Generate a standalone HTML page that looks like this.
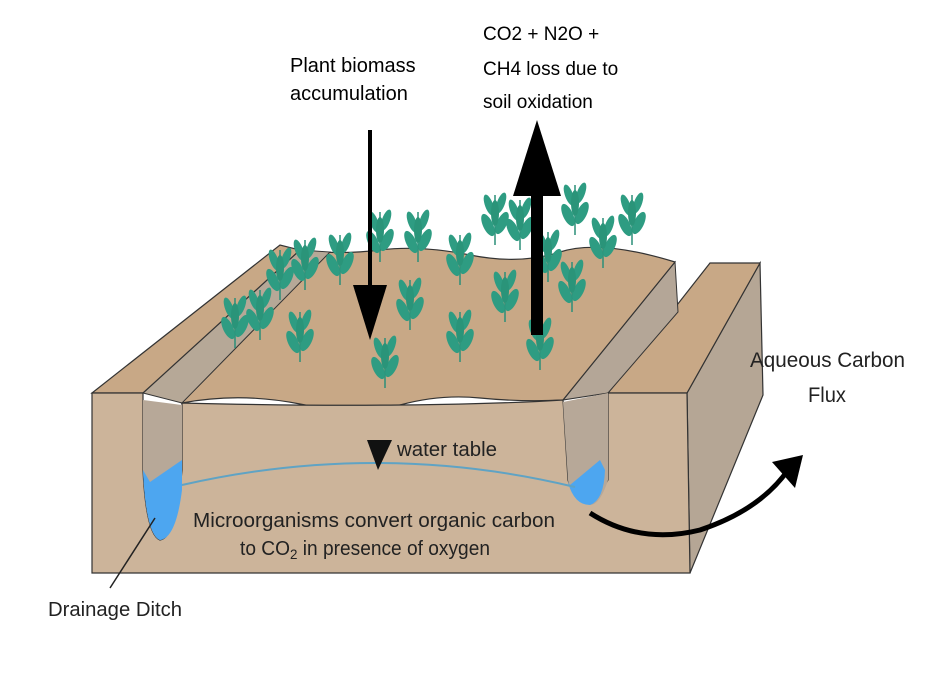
<!DOCTYPE html>
<html><head><meta charset="utf-8"><style>
html,body{margin:0;padding:0;background:#fff;}
svg{display:block;}
.c{font-family:"Liberation Sans",sans-serif;}
</style></head><body>
<svg width="938" height="673" viewBox="0 0 938 673" xmlns="http://www.w3.org/2000/svg">
<defs>
<g id="p">
  <path d="M0 0 L0 -50" stroke="#2a8f78" stroke-width="1.5"/>
  <ellipse cx="-7" cy="-20" rx="5" ry="12" transform="rotate(-25 -7 -20)" fill="#2e9c82"/>
  <ellipse cx="7" cy="-22" rx="5" ry="12" transform="rotate(25 7 -22)" fill="#2e9c82"/>
  <ellipse cx="-6" cy="-40" rx="4" ry="11" transform="rotate(-20 -6 -40)" fill="#2e9c82"/>
  <ellipse cx="6" cy="-42" rx="4" ry="11" transform="rotate(20 6 -42)" fill="#2e9c82"/>
  <ellipse cx="0" cy="-32" rx="4" ry="13" fill="#2a9479"/>
</g>
</defs>
<rect width="938" height="673" fill="#fff"/>
<polygon points="687,393 760,263 763,395 690,573" fill="#b5a695" stroke="#333" stroke-width="1.2"/>
<polygon points="608,393 710,263 760,263 687,393" fill="#c8a886" stroke="#333" stroke-width="1.2"/>
<polygon points="563,400 675,262 678,312 608,393" fill="#b4a697" stroke="#333" stroke-width="1"/>
<path d="M182,403 L300,250 Q340,255 380,250 T470,255 T560,252 T675,262 L563,400 Q520,402 480,398 T400,405 T300,404 T182,403 Z" fill="#c8a886" stroke="#333" stroke-width="1.2"/>
<polygon points="143,393 300,250 330,252 182,403" fill="#b6a897" stroke="#333" stroke-width="1"/>
<polygon points="92,393 280,245 300,250 143,393" fill="#c8a886" stroke="#333" stroke-width="1.2"/>
<path d="M92,393 L143,393 L143,470 Q146,535 160,540 Q176,538 182,470 L182,403 Q300,406 400,405 T563,400 L568,480 Q574,505 595,500 L608,480 L608,393 L687,393 L690,573 L92,573 Z" fill="#ccb49a" stroke="#333" stroke-width="1.2"/>
<path d="M143,400 L182,405 L182,470 Q176,538 160,540 Q146,535 143,470 Z" fill="#b7a898"/>
<path d="M143,470 Q146,535 160,540 Q176,538 182,490 L182,460 L150,482 Z" fill="#4da6f0"/>
<path d="M563,402 L608,393 L608,480 Q600,505 590,505 Q570,500 568,480 Z" fill="#b7a898"/>
<path d="M568,482 Q574,505 590,505 Q604,500 605,470 L600,460 L570,485 Z" fill="#4da6f0"/>
<path d="M182,485 Q380,440 575,487" fill="none" stroke="#5fa3c4" stroke-width="2"/>
<polygon points="367,440 392,440 378,470" fill="#111"/>
<text x="397" y="456" class="c" font-size="20" fill="#222" textLength="100" lengthAdjust="spacingAndGlyphs">water table</text>
<text x="193" y="527" class="c" font-size="20" fill="#222" textLength="362" lengthAdjust="spacingAndGlyphs">Microorganisms convert organic carbon</text>
<text x="240" y="555" class="c" font-size="20" fill="#222" textLength="250" lengthAdjust="spacingAndGlyphs">to CO<tspan font-size="14" dy="4">2</tspan><tspan dy="-4"> in presence of oxygen</tspan></text>
<line x1="155" y1="518" x2="110" y2="588" stroke="#222" stroke-width="1.5"/>
<text x="48" y="616" class="c" font-size="20" fill="#222" textLength="134" lengthAdjust="spacingAndGlyphs">Drainage Ditch</text>
<use href="#p" x="235" y="348"/><use href="#p" x="260" y="340"/><use href="#p" x="300" y="362"/>
<use href="#p" x="280" y="300"/><use href="#p" x="305" y="290"/><use href="#p" x="340" y="285"/>
<use href="#p" x="385" y="388"/><use href="#p" x="410" y="330"/><use href="#p" x="418" y="262"/>
<use href="#p" x="380" y="262"/><use href="#p" x="460" y="285"/><use href="#p" x="460" y="362"/>
<use href="#p" x="495" y="245"/><use href="#p" x="505" y="322"/><use href="#p" x="540" y="370"/>
<use href="#p" x="575" y="235"/><use href="#p" x="572" y="312"/><use href="#p" x="603" y="268"/>
<use href="#p" x="632" y="245"/><use href="#p" x="548" y="282"/><use href="#p" x="520" y="250"/>
<line x1="370" y1="130" x2="370" y2="300" stroke="#000" stroke-width="4"/>
<polygon points="353,285 387,285 370,340" fill="#000"/>
<rect x="531" y="190" width="12" height="145" fill="#000"/>
<polygon points="537,120 513,196 561,196" fill="#000"/>
<path d="M590,513 Q640,545 700,530 Q760,510 788,470" fill="none" stroke="#000" stroke-width="5"/>
<polygon points="772,462 803,455 795,488" fill="#000"/>
<text x="290" y="72" font-family="Liberation Sans,sans-serif" font-size="20" fill="#000">Plant biomass</text>
<text x="290" y="100" font-family="Liberation Sans,sans-serif" font-size="20" fill="#000">accumulation</text>
<text x="483" y="40" font-family="Liberation Sans,sans-serif" font-size="19" fill="#000">CO2 + N2O +</text>
<text x="483" y="75" font-family="Liberation Sans,sans-serif" font-size="19" fill="#000">CH4 loss due to</text>
<text x="483" y="108" font-family="Liberation Sans,sans-serif" font-size="19" fill="#000">soil oxidation</text>
<text x="750" y="367" class="c" font-size="21" fill="#222" textLength="155" lengthAdjust="spacingAndGlyphs">Aqueous Carbon</text>
<text x="808" y="402" class="c" font-size="21" fill="#222" textLength="38" lengthAdjust="spacingAndGlyphs">Flux</text>
</svg>
</body></html>
